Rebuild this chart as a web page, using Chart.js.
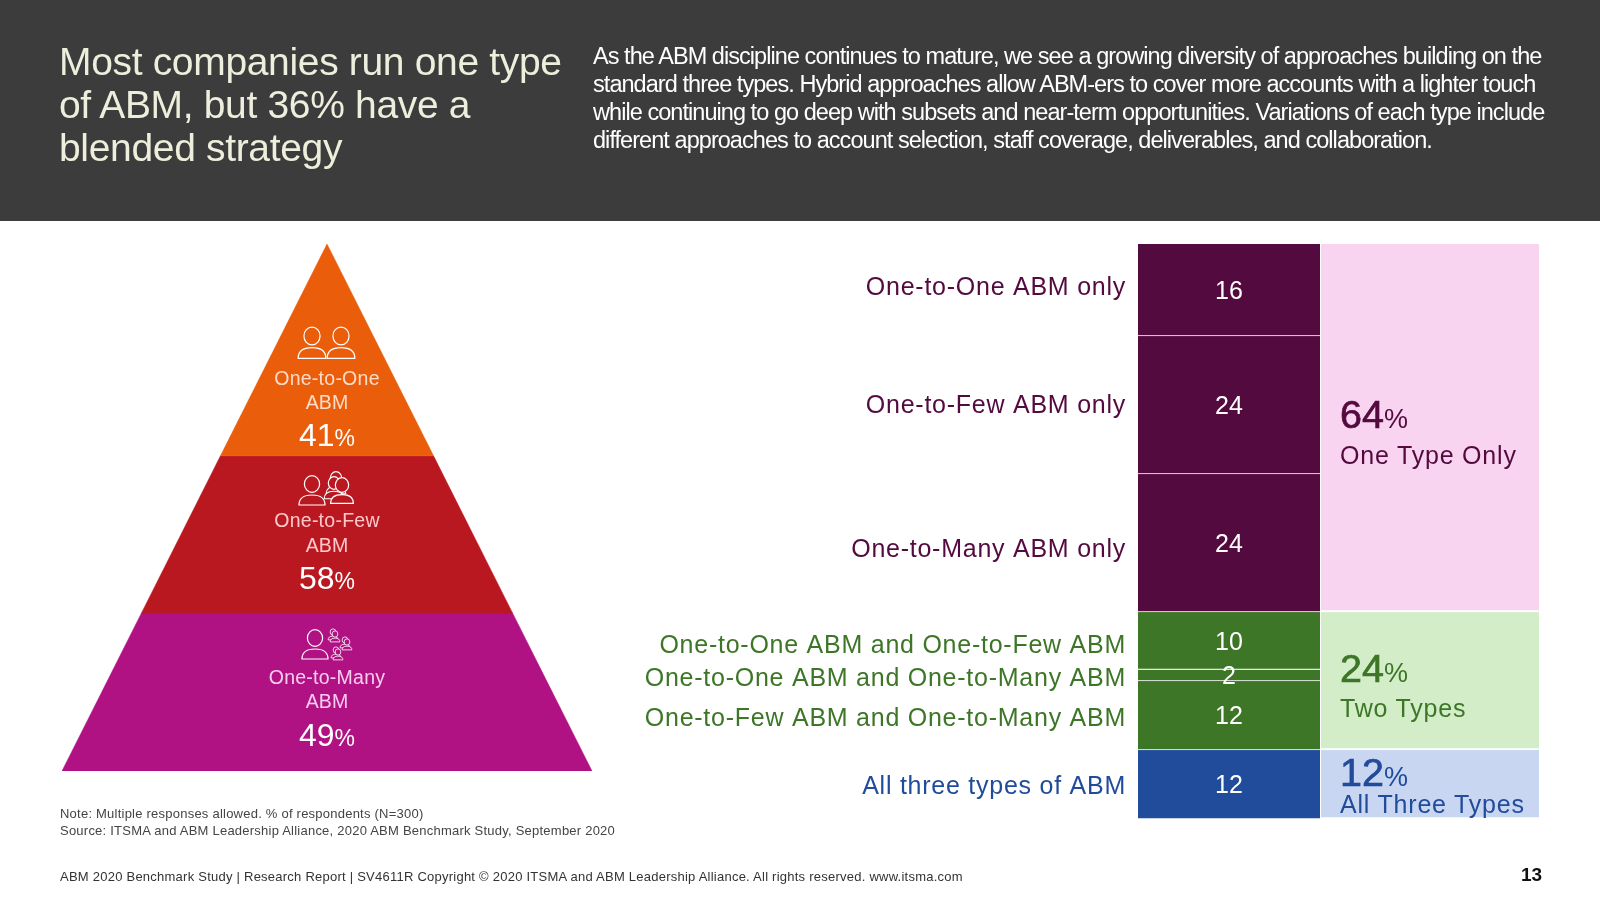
<!DOCTYPE html>
<html>
<head>
<meta charset="utf-8">
<title>ABM 2020 Benchmark Study</title>
<script src="https://cdn.jsdelivr.net/npm/chart.js@4"></script>
<style>
html, body { margin: 0; padding: 0; background: #fff; }
body { position: relative; width: 1600px; height: 900px; overflow: hidden; font-family: "Liberation Sans", Arial, sans-serif; }
#header { position: absolute; left: 0; top: 0; width: 1600px; height: 221px; background: #3c3c3c; }
canvas { position: absolute; }
svg { position: absolute; left: 0; top: 0; }
.t { position: absolute; white-space: nowrap; transform: translateY(-50%); }
.c { transform: translate(-50%, -50%); }
</style>
</head>
<body>
<div id="header"></div>
<canvas id="pyramid" width="530" height="527" style="left:62px;top:244px"></canvas>
<canvas id="segments" width="700" height="575" style="left:620px;top:244px"></canvas>
<canvas id="types" width="218" height="575" style="left:1321px;top:244px"></canvas>
<svg id="icons" width="1600" height="900" viewBox="0 0 1600 900"></svg>
<script>
var titleLines = ["Most companies run one type", "of ABM, but 36% have a", "blended strategy"]
var bodyLines = [
    "As the ABM discipline continues to mature, we see a growing diversity of approaches building on the",
    "standard three types. Hybrid approaches allow ABM-ers to cover more accounts with a lighter touch",
    "while continuing to go deep with subsets and near-term opportunities. Variations of each type include",
    "different approaches to account selection, staff coverage, deliverables, and collaboration."
]

var pyramidNames = ["One-to-One", "One-to-Few", "One-to-Many"]
var pyramidShares = [41, 58, 49]
var pyramidLevels = [0, 40.2, 70, 100]
var pyramidColors = ["#ea5d0b", "#ba1821", "#b01283"]
var pyramidTextColors = ["#ffdcc8", "#ffc9cc", "#f9cdee"]

var segmentLabels = [
    "One-to-One ABM only",
    "One-to-Few ABM only",
    "One-to-Many ABM only",
    "One-to-One ABM and One-to-Few ABM",
    "One-to-One ABM and One-to-Many ABM",
    "One-to-Few ABM and One-to-Many ABM",
    "All three types of ABM"
]
var segmentValues = [16, 24, 24, 10, 2, 12, 12]
var segmentColors = ["#530a3e", "#530a3e", "#530a3e", "#3d7627", "#3d7627", "#3d7627", "#214b9b"]
// labels do not sit exactly on the middle of their block
var labelNudge = [-0.35, 0.15, 1.3, 0.95, 0.65, 0.65, 0.45]

var typeLabels = ["One Type Only", "Two Types", "All Three Types"]
var typeShares = [64, 24, 12]
var typeColors = ["#f8d4f0", "#d4edc9", "#c8d6f2"]
var typeTextColors = ["#530a3e", "#3d7627", "#214b9b"]

var noteLines = [
    "Note: Multiple responses allowed. % of respondents (N=300)",
    "Source: ITSMA and ABM Leadership Alliance, 2020 ABM Benchmark Study, September 2020"
]
var footerText = "ABM 2020 Benchmark Study | Research Report | SV4611R Copyright \u00a9 2020 ITSMA and ABM Leadership Alliance. All rights reserved. www.itsma.com"
var pageNumber = "13"

Chart.defaults.font.family = '"Liberation Sans", Arial, sans-serif'
Chart.defaults.animation = false

// plain html text, y is the middle of the line
function addText(html, x, y, css, centered) {
    var el = document.createElement("div")
    el.className = centered ? "t c" : "t"
    el.innerHTML = html
    el.style.left = x + "px"
    el.style.top = y + "px"
    el.style.cssText += css
    document.body.appendChild(el)
}

// header
var titleY = [62, 105, 148]
titleLines.forEach(function (line, i) {
    addText(line, 59, titleY[i], "font-size:39px;color:#eeeedd;letter-spacing:-0.33px")
})
var bodyY = [56, 84, 112, 140]
bodyLines.forEach(function (line, i) {
    addText(line, 593, bodyY[i], "font-size:23.5px;color:#fff;letter-spacing:-0.95px")
})

// pyramid, each band is a closed shape on a -100..100 / 0..100 grid
function bandPoints(top, bottom) {
    return [
        {x: -top, y: top}, {x: top, y: top},
        {x: bottom, y: bottom}, {x: -bottom, y: bottom},
        {x: -top, y: top}
    ]
}

var pyramidChart = new Chart(document.getElementById("pyramid"), {
    type: "scatter",
    data: {
        datasets: pyramidNames.map(function (name, i) {
            return {
                label: name,
                data: bandPoints(pyramidLevels[i], pyramidLevels[i + 1]),
                showLine: true,
                fill: "shape",
                backgroundColor: pyramidColors[i],
                borderColor: pyramidColors[i],
                borderWidth: 0.5,
                pointRadius: 0,
                tension: 0
            }
        })
    },
    options: {
        responsive: false,
        layout: {padding: 0},
        plugins: {legend: {display: false}, tooltip: {enabled: false}},
        scales: {
            x: {type: "linear", min: -100, max: 100, display: false},
            y: {type: "linear", min: 0, max: 100, reverse: true, display: false}
        }
    }
})

var nameY = [[378, 402], [520, 545], [676.5, 701]]
var shareY = [435, 577.5, 735]
pyramidNames.forEach(function (name, i) {
    var color = pyramidTextColors[i]
    addText(name, 327, nameY[i][0], "font-size:19.5px;letter-spacing:0.25px;color:" + color, true)
    addText("ABM", 327, nameY[i][1], "font-size:19.5px;color:" + color, true)
    addText(pyramidShares[i] + '<span style="font-size:23px">%</span>', 327, shareY[i], "font-size:32px;color:#fff", true)
})

// icons
function person(cx, cy, r, fill) {
    var s = r / 8
    var x = 13 * s, t = 11 * s, b = 21 * s
    return '<ellipse cx="' + cx + '" cy="' + cy + '" rx="' + (r * 0.95) + '" ry="' + (r * 1.05) + '"' + fill + '/>' +
        '<path d="M' + (cx - x) + ' ' + (cy + b) + 'Q' + (cx - x) + ' ' + (cy + t) + ' ' + cx + ' ' + (cy + t) +
        'Q' + (cx + x) + ' ' + (cy + t) + ' ' + (cx + x) + ' ' + (cy + b) + 'Z"' + fill + '/>'
}

function group(people, fill, width) {
    return '<g stroke="#fff" stroke-width="' + width + '">' + people.map(function (p) {
        return person(p[0], p[1], p[2], ' fill="' + fill + '"')
    }).join("") + '</g>'
}

var iconRows = [
    group([[312, 336, 8.5], [341, 336, 8.5]], "none", 1.2),
    group([[312, 484, 8]], "none", 1.2) +
        group([[336, 478, 6], [334, 483, 6], [342, 485, 7]], "#ba1821", 1.2),
    group([[315, 638, 8]], "none", 1.2) +
        group([[333, 632, 3], [335, 634, 3], [345, 640, 3], [347, 642, 3], [336, 650, 3], [338, 652, 3]], "#b01283", 0.8)
]
document.getElementById("icons").innerHTML = iconRows.join("")

// stacked columns
var midpoints = []
var running = 0
segmentValues.forEach(function (v, i) {
    midpoints.push(running + v / 2 + labelNudge[i])
    running += v
})

var valueLabels = {
    id: "valueLabels",
    afterDatasetsDraw: function (chart) {
        var ctx = chart.ctx
        ctx.save()
        ctx.letterSpacing = "0px"
        ctx.font = '25px "Liberation Sans", Arial, sans-serif'
        ctx.fillStyle = "#fff"
        ctx.textAlign = "center"
        ctx.textBaseline = "middle"
        chart.data.datasets.forEach(function (ds, i) {
            var bar = chart.getDatasetMeta(i).data[0]
            ctx.fillText(String(ds.data[0]), bar.x, bar.y + (bar.base - bar.y) / 2 + 2)
        })
        ctx.restore()
    }
}

var tickSpacing = {
    id: "tickSpacing",
    beforeDraw: function (chart) {
        chart.ctx.letterSpacing = "0.75px"
    }
}

var segmentChart = new Chart(document.getElementById("segments"), {
    type: "bar",
    data: {
        labels: [""],
        datasets: segmentLabels.map(function (label, i) {
            return {
                label: label,
                data: [segmentValues[i]],
                backgroundColor: segmentColors[i],
                borderColor: "#fff",
                borderWidth: {top: 0, right: 0, bottom: 1, left: 0},
                borderSkipped: false,
                categoryPercentage: 1,
                barPercentage: 1
            }
        })
    },
    options: {
        responsive: false,
        layout: {padding: 0},
        plugins: {legend: {display: false}, tooltip: {enabled: false}},
        scales: {
            x: {stacked: true, display: false},
            y: {
                stacked: true,
                reverse: true,
                min: 0,
                max: 100,
                border: {display: false},
                grid: {display: false, drawTicks: false},
                afterBuildTicks: function (scale) {
                    scale.ticks = midpoints.map(function (v) { return {value: v} })
                },
                afterFit: function (scale) {
                    scale.width = 518
                    scale.paddingTop = 0
                    scale.paddingBottom = 0
                },
                ticks: {
                    autoSkip: false,
                    padding: 12,
                    font: {size: 25},
                    color: function (c) { return segmentColors[c.index] },
                    callback: function (v, i) { return segmentLabels[i] }
                }
            }
        }
    },
    plugins: [tickSpacing, valueLabels]
})

var typeChart = new Chart(document.getElementById("types"), {
    type: "bar",
    data: {
        labels: [""],
        datasets: typeLabels.map(function (label, i) {
            return {
                label: label,
                data: [typeShares[i]],
                backgroundColor: typeColors[i],
                borderColor: "#fff",
                borderWidth: {top: 0, right: 0, bottom: 2, left: 0},
                borderSkipped: false,
                categoryPercentage: 1,
                barPercentage: 1
            }
        })
    },
    options: {
        responsive: false,
        layout: {padding: 0},
        plugins: {legend: {display: false}, tooltip: {enabled: false}},
        scales: {
            x: {stacked: true, display: false},
            y: {stacked: true, reverse: true, min: 0, max: 100, display: false}
        }
    }
})

var typeShareY = [414, 668, 772]
var typeLabelY = [455, 708, 804]
typeLabels.forEach(function (label, i) {
    var color = typeTextColors[i]
    addText(typeShares[i] + '<span style="font-size:27px;-webkit-text-stroke:0">%</span>', 1340, typeShareY[i],
        "font-size:39.5px;-webkit-text-stroke:0.7px " + color + ";color:" + color)
    addText(label, 1340, typeLabelY[i], "font-size:25px;letter-spacing:0.8px;color:" + color)
})

// notes and footer
var noteY = [813, 830]
noteLines.forEach(function (line, i) {
    addText(line, 60, noteY[i], "font-size:13px;letter-spacing:0.23px;color:#444")
})
addText(footerText, 60, 875.5, "font-size:13px;letter-spacing:0.24px;color:#333")
addText(pageNumber, 1521, 875, "font-size:19px;font-weight:bold;color:#111")
</script>
</body>
</html>
